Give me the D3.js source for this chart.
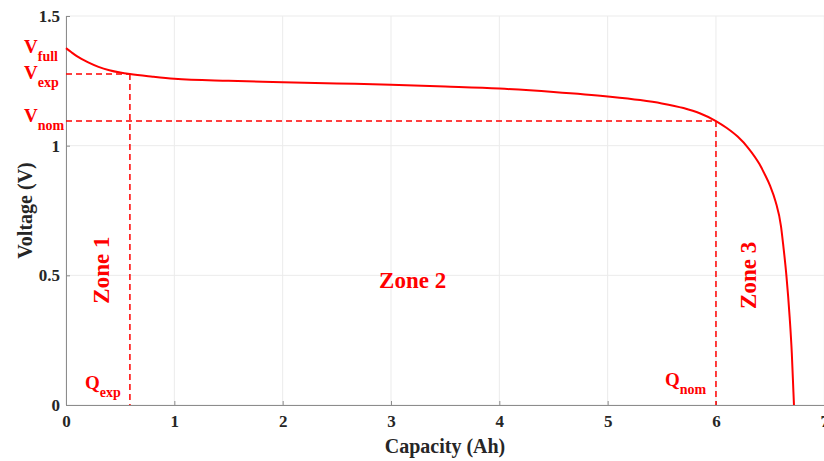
<!DOCTYPE html>
<html>
<head>
<meta charset="utf-8">
<script src="https://cdn.jsdelivr.net/npm/d3@7"></script>
<style>
  body { margin: 0; background: #fff; }
  svg { display: block; font-family: "Liberation Serif", "Times New Roman", serif; }
</style>
</head>
<body>
<div id="myPlot" style="width:824px;height:461px"></div>
<script>
// Discharge curve
const capacity = [0, 0.05, 0.1, 0.2, 0.3, 0.4, 0.5, 0.59, 0.8, 1, 1.5, 2, 2.5, 3, 3.5, 4, 4.5, 5, 5.3, 5.5, 5.7, 5.85, 6, 6.1, 6.2, 6.3, 6.4, 6.45, 6.5, 6.55, 6.6, 6.62, 6.65, 6.68, 6.7, 6.715, 6.72];
const voltage  = [1.376, 1.36, 1.345, 1.322, 1.304, 1.291, 1.282, 1.276, 1.266, 1.258, 1.25, 1.245, 1.24, 1.235, 1.228, 1.22, 1.207, 1.19, 1.176, 1.163, 1.145, 1.125, 1.095, 1.068, 1.035, 0.99, 0.93, 0.89, 0.845, 0.785, 0.69, 0.62, 0.5, 0.34, 0.2, 0.05, 0];

const xTicks = [0, 1, 2, 3, 4, 5, 6, 7];
const yTicks = [0, 0.5, 1, 1.5];

const qExp = 0.59, vExp = 1.276;
const qNom = 6.0, vNom = 1.095;
const vFull = 1.376;

const zones = [
  { text: "Zone 1", x: 0.33, y: 0.52, rotate: true },
  { text: "Zone 2", x: 3.2, y: 0.48, rotate: false },
  { text: "Zone 3", x: 6.3, y: 0.5, rotate: true }
];

const red = "#ff0000";
const W = 824, H = 461;
const m = { left: 66, right: -0.3, top: 16, bottom: 56 };

const svg = d3.select("#myPlot").append("svg")
  .attr("width", W).attr("height", H);

const x = d3.scaleLinear().domain([0, 7]).range([m.left, W - m.right]);
const y = d3.scaleLinear().domain([0, 1.5]).range([H - m.bottom, m.top]);

// Grid
svg.append("g").selectAll("line.gx")
  .data(xTicks).enter().append("line")
  .attr("x1", d => x(d)).attr("x2", d => x(d))
  .attr("y1", y(0)).attr("y2", y(1.5))
  .style("stroke", "#ebebeb").style("stroke-width", 1);
svg.append("g").selectAll("line.gy")
  .data(yTicks).enter().append("line")
  .attr("x1", x(0)).attr("x2", x(7))
  .attr("y1", d => y(d)).attr("y2", d => y(d))
  .style("stroke", "#ebebeb").style("stroke-width", 1);

// Axes
const xAxis = svg.append("g")
  .attr("transform", "translate(0," + y(0) + ")")
  .call(d3.axisBottom(x).tickValues(xTicks).tickFormat(d3.format("d")).tickSizeInner(-4).tickSizeOuter(0).tickPadding(10));
const yAxis = svg.append("g")
  .attr("transform", "translate(" + x(0) + ",0)")
  .call(d3.axisLeft(y).tickValues(yTicks).tickFormat(d => d).tickSizeInner(-4).tickSizeOuter(0).tickPadding(6));

[xAxis, yAxis].forEach(a => {
  a.select(".domain").style("stroke", "#8c8c8c");
  a.selectAll(".tick line").style("stroke", "#8c8c8c");
  a.selectAll(".tick text")
    .style("font-family", "Liberation Serif")
    .style("font-weight", "bold")
    .style("font-size", "17px")
    .style("fill", "#262626");
});

svg.append("text")
  .attr("x", 445).attr("y", 453)
  .attr("text-anchor", "middle")
  .style("font-weight", "bold").style("font-size", "20px").style("fill", "#262626")
  .text("Capacity (Ah)");
svg.append("text")
  .attr("transform", "translate(32," + y(0.75) + ") rotate(-90)")
  .attr("text-anchor", "middle")
  .style("font-weight", "bold").style("font-size", "20px").style("fill", "#262626")
  .text("Voltage (V)");

// Dashed guide lines
const dash = svg.append("g")
  .style("stroke", red).style("stroke-width", 1.5).style("stroke-dasharray", "6,4").style("fill", "none");
dash.append("line").attr("x1", x(0)).attr("y1", y(vExp)).attr("x2", x(qExp)).attr("y2", y(vExp));
dash.append("line").attr("x1", x(qExp)).attr("y1", y(vExp)).attr("x2", x(qExp)).attr("y2", y(0));
dash.append("line").attr("x1", x(0)).attr("y1", y(vNom)).attr("x2", x(qNom)).attr("y2", y(vNom));
dash.append("line").attr("x1", x(qNom)).attr("y1", y(vNom)).attr("x2", x(qNom)).attr("y2", y(0));

// Curve
const pts = capacity.map((c, i) => [c, voltage[i]]);
svg.append("path")
  .datum(pts)
  .attr("d", d3.line().x(d => x(d[0])).y(d => y(d[1])).curve(d3.curveMonotoneX))
  .style("fill", "none").style("stroke", red).style("stroke-width", 2);

// Subscripted labels
function label(txt, sub, px, py, anchor) {
  const t = svg.append("text")
    .attr("x", px).attr("y", py)
    .attr("text-anchor", anchor || "start")
    .style("fill", red).style("font-weight", "bold").style("font-size", "19px");
  t.append("tspan").text(txt);
  t.append("tspan").attr("dy", 8).style("font-size", "14px").text(sub);
}
label("V", "full", 24, y(vFull) + 5);
label("V", "exp", 24, y(vExp) + 5);
label("V", "nom", 24, y(vNom) + 1);
label("Q", "exp", 85, 389);
label("Q", "nom", 665, 386);

// Zone labels
zones.forEach(z => {
  const t = svg.append("text")
    .attr("text-anchor", "middle")
    .attr("dominant-baseline", "central")
    .style("fill", red).style("font-weight", "bold").style("font-size", "23px")
    .text(z.text);
  if (z.rotate) t.attr("transform", "translate(" + x(z.x) + "," + y(z.y) + ") rotate(-90)");
  else t.attr("x", x(z.x)).attr("y", y(z.y));
});
</script>
</body>
</html>
